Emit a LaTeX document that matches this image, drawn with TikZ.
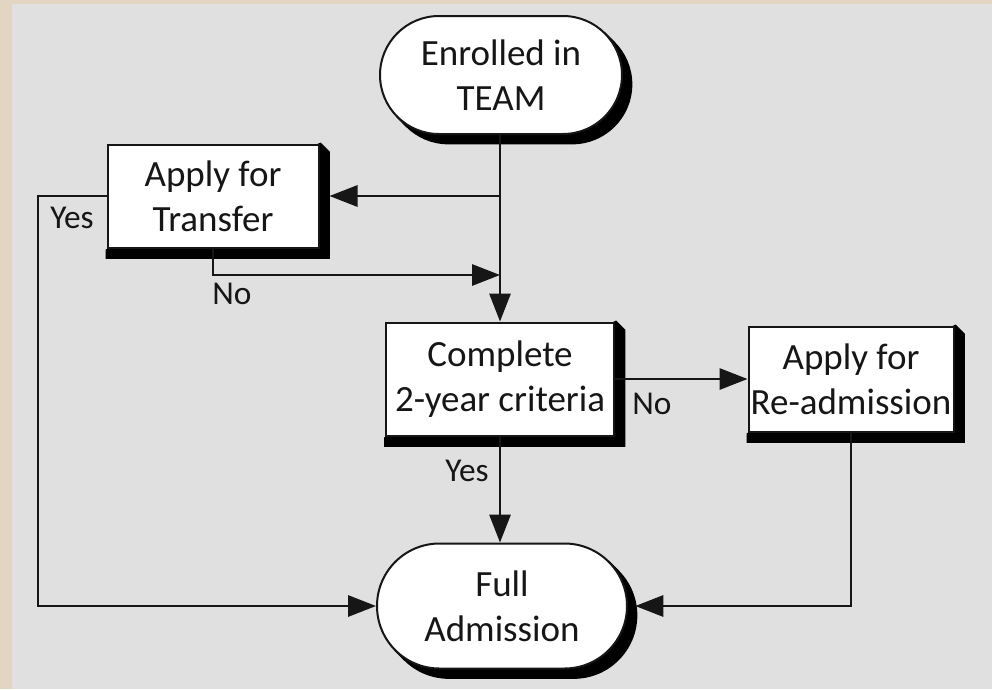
\documentclass[tikz,border=0pt]{standalone}
\usepackage{fontspec}
\setmainfont{Carlito}
\usetikzlibrary{shapes.misc,arrows.meta,calc}
\pgfdeclarelayer{back}
\pgfdeclarelayer{shade}
\pgfsetlayers{back,shade,main}
\definecolor{bgbeige}{HTML}{E2D6C2}
\definecolor{bggray}{HTML}{E0E0E0}
\definecolor{ink}{HTML}{161616}
\newcommand{\nodefont}{\fontsize{27.75pt}{33.75pt}\selectfont}
\newcommand{\lblfont}{\fontsize{25pt}{30pt}\selectfont}
\tikzset{
  boxnode/.style={rectangle, draw=ink, line width=1.5pt, fill=white, align=center,
    font=\nodefont, text=ink, inner sep=0pt},
  termnode/.style={rounded rectangle, draw=ink, line width=1.5pt, fill=white, align=center,
    font=\nodefont, text=ink, inner sep=0pt},
  termshade/.style={rounded rectangle, draw=black, fill=black, line width=1.5pt, inner sep=0pt},
  shadefill/.style={fill=black},
  conn/.style={draw=ink, line width=1.5pt},
  arr/.style={conn, -{Triangle[length=21pt,width=16pt]}},
  lbl/.style={font=\lblfont, text=ink, inner sep=0pt}
}
\newcommand{\rectshade}[1]{%
  \fill[shadefill] ([shift={(0.75pt,0.75pt)}]#1.north east) -- ++(7pt,-7pt)
    -- ([shift={(7.75pt,-7.75pt)}]#1.south east) -- ([shift={(-0.75pt,-7.75pt)}]#1.south west)
    -- ([shift={(-0.75pt,-0.75pt)}]#1.south west) -- (#1.center) -- cycle;}
\begin{document}
\begin{tikzpicture}[x=0.75pt,y=-0.75pt]
  \useasboundingbox (0,0) rectangle (992,689);
  \begin{pgfonlayer}{back}
    \fill[bgbeige] (0,0) rectangle (992,689);
    \fill[bggray] (12,4) rectangle (992,689);
  \end{pgfonlayer}

  \node[termnode, minimum width=181.5pt, minimum height=88.5pt] (enrolled) at (501,75) {Enrolled in\\TEAM};
  \node[boxnode, minimum width=158.25pt, minimum height=77.25pt] (transfer) at (213,196) {Apply for\\Transfer};
  \node[boxnode, minimum width=171pt, minimum height=84.75pt] (complete) at (500,379) {Complete\\2-year criteria};
  \node[boxnode, minimum width=153.75pt, minimum height=78.75pt] (readmit) at (851,379) {Apply for\\Re-admission};
  \node[termnode, minimum width=187.5pt, minimum height=93.75pt] (full) at (502,606) {Full\\Admission};

  \begin{pgfonlayer}{shade}
    \rectshade{transfer}
    \rectshade{complete}
    \rectshade{readmit}
    \node[termshade, minimum width=181.5pt, minimum height=88.5pt] (enrolledsh) at ([shift={(7pt,-7pt)}]enrolled.center) {};
    \fill[shadefill] ($(enrolled.center)+(78.3pt,31.8pt)$) -- ++(7pt,-7pt)
      -- ($(enrolled.center)+(-71.3pt,-38.8pt)$) -- ($(enrolled.center)+(-78.3pt,-31.8pt)$) -- cycle;
    \node[termshade, minimum width=187.5pt, minimum height=93.75pt] (fullsh) at ([shift={(7pt,-7pt)}]full.center) {};
    \fill[shadefill] ($(full.center)+(80.5pt,33.7pt)$) -- ++(7pt,-7pt)
      -- ($(full.center)+(-73.5pt,-40.7pt)$) -- ($(full.center)+(-80.5pt,-33.7pt)$) -- cycle;
  \end{pgfonlayer}

  \coordinate (j1) at (500,196);
  \coordinate (j2) at (500,275);
  \coordinate (lc) at (38,606);

  \draw[arr] (500,0 |- enrolled.south) -- (500,0 |- complete.north);
  \draw[arr] (j1) -- ([xshift=7.5pt]transfer.east);
  \draw[arr] (transfer.south) |- (j2);
  \draw[arr] (transfer.west) -| (lc) -- (full.west);
  \draw[arr] (complete.east) -- (complete.east -| readmit.west);
  \draw[arr] (readmit.south) |- ([xshift=5.5pt]full.east);
  \draw[arr] (500,0 |- complete.south) -- (500,0 |- full.north);

  \node[lbl] (l1) at (72,218) {Yes};
  \node[lbl] (l2) at (232,294) {No};
  \node[lbl] (l3) at (652,404) {No};
  \node[lbl] (l4) at (467,471) {Yes};
\end{tikzpicture}
\end{document}
